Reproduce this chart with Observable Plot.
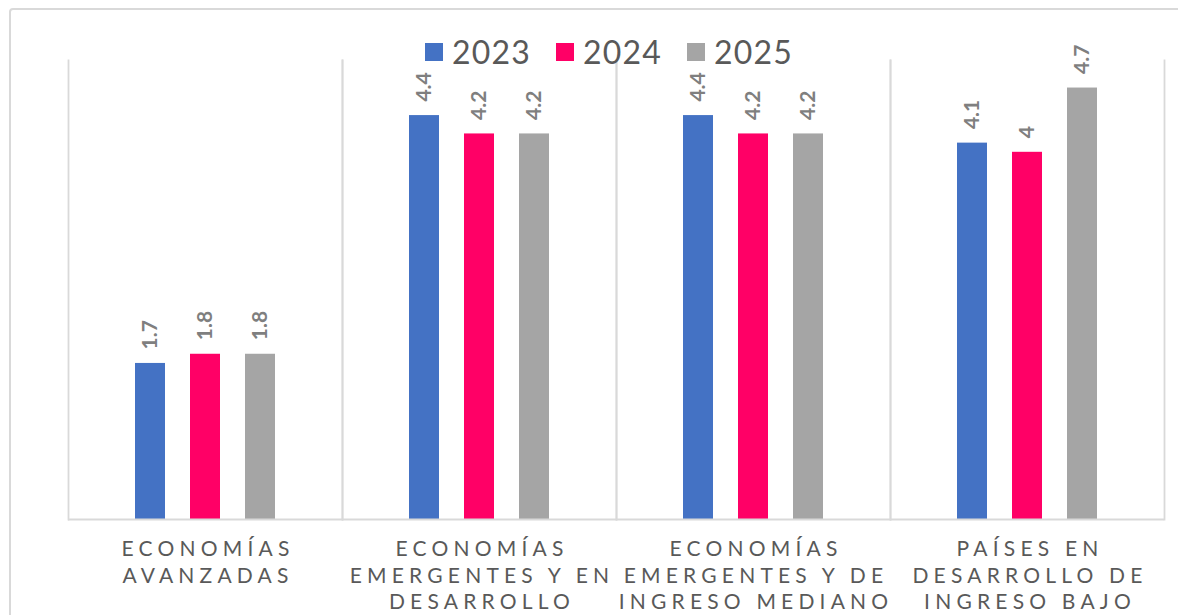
<!DOCTYPE html>
<html>
<head>
<meta charset="utf-8">
<script src="https://cdn.jsdelivr.net/npm/d3@7"></script>
<script src="https://cdn.jsdelivr.net/npm/@observablehq/plot@0.6"></script>
<style>
  html, body { margin: 0; padding: 0; background: #fff; overflow: hidden; }
  #wrap { position: relative; width: 1178px; height: 615px; overflow: hidden; font-family: Lato, sans-serif; }
  #border { position: absolute; left: 9px; top: 8px; width: 1200px; height: 700px; border: 2px solid #d9d9d9; border-radius: 4px; box-sizing: border-box; }
  #chart { position: absolute; left: 0; top: 0; }
  #legend { position: absolute; left: 425px; top: 32px; display: flex; align-items: center; font-size: 32px; letter-spacing: 1.2px; color: #595959; }
  #legend .item { display: flex; align-items: center; margin-right: 25px; }
  #legend .sw { width: 18px; height: 18px; margin-right: 9px; }
  g[aria-label="fx-axis tick label"] { letter-spacing: 5.2px; }
</style>
</head>
<body>
<div id="wrap">
  <div id="border"></div>
  <div id="chart"></div>
  <div id="legend"></div>
</div>
<script>
const categories = ["Economías avanzadas", "Economías emergentes y en desarrollo", "Economías emergentes y de ingreso mediano", "Países en desarrollo de ingreso bajo"];
const tickLabels = ["ECONOMÍAS\nAVANZADAS", "ECONOMÍAS\nEMERGENTES Y EN\nDESARROLLO", "ECONOMÍAS\nEMERGENTES Y DE\nINGRESO MEDIANO", "PAÍSES EN\nDESARROLLO DE\nINGRESO BAJO"];
const years = ["2023", "2024", "2025"];
const values2023 = [1.7, 4.4, 4.4, 4.1];
const values2024 = [1.8, 4.2, 4.2, 4.0];
const values2025 = [1.8, 4.2, 4.2, 4.7];
const colors = ["#4472C4", "#FF0066", "#A5A5A5"];

const series = [values2023, values2024, values2025];
const data = [];
categories.forEach((c, i) => {
  years.forEach((y, j) => data.push({category: c, year: y, value: series[j][i]}));
});
const labelOf = new Map(categories.map((c, i) => [c, tickLabels[i]]));

const chart = Plot.plot({
  width: 1178,
  height: 615,
  marginTop: 60,
  marginBottom: 96,
  marginLeft: 68,
  marginRight: 14,
  style: {background: "transparent", fontFamily: "Lato, sans-serif", overflow: "visible"},
  fx: {domain: categories, padding: 0, axis: null},
  x: {domain: years, paddingInner: 0.446, paddingOuter: 1.17, axis: null},
  y: {domain: [0, 5], axis: null},
  color: {domain: years, range: colors},
  marks: [
    Plot.frame({anchor: "left", stroke: "#d9d9d9", strokeWidth: 1.8}),
    Plot.frame({anchor: "right", stroke: "#d9d9d9", strokeWidth: 1.8}),
    Plot.barY(data, {fx: "category", x: "year", y: "value", fill: "year"}),
    Plot.ruleY([0], {stroke: "#d9d9d9", strokeWidth: 2}),
    Plot.text(data, {fx: "category", x: "year", y: "value", text: d => String(d.value), rotate: -90, textAnchor: "start", lineAnchor: "middle", dy: -14, fontSize: 21, fontWeight: "bold", fill: "#7f7f7f"}),
    Plot.axisFx({anchor: "bottom", tickSize: 0, tickPadding: 18, fontSize: 21, lineHeight: 1.26, tickFormat: c => labelOf.get(c), fill: "#595959", dx: 2.5, label: null})
  ]
});
document.getElementById("chart").appendChild(chart);

const legend = document.getElementById("legend");
years.forEach((y, i) => {
  const item = document.createElement("div");
  item.className = "item";
  const sw = document.createElement("div");
  sw.className = "sw";
  sw.style.background = colors[i];
  const t = document.createElement("span");
  t.textContent = y;
  item.appendChild(sw);
  item.appendChild(t);
  legend.appendChild(item);
});
</script>
</body>
</html>
